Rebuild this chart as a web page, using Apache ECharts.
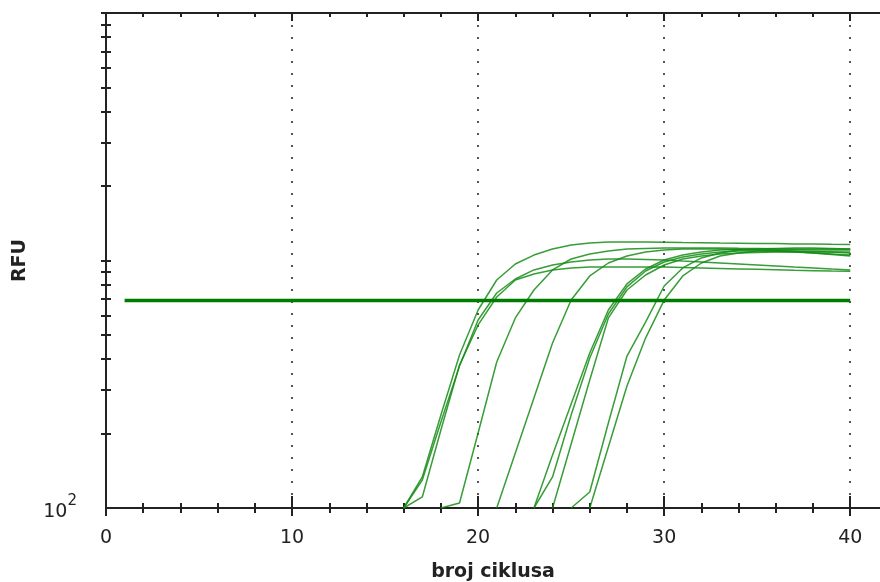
<!DOCTYPE html>
<html><head><meta charset="utf-8">
<script src="https://cdn.jsdelivr.net/npm/echarts@6/dist/echarts.min.js"></script>
<style>html,body{margin:0;padding:0;background:#fff}#c{width:880px;height:582px}</style>
</head><body><div id="c"></div>
<script>
// ---- data ----
const cycles = [1,2,3,4,5,6,7,8,9,10,11,12,13,14,15,16,17,18,19,20,21,22,23,24,25,26,27,28,29,30,31,32,33,34,35,36,37,38,39,40];
const xMajorTicks = [0,10,20,30,40];
const xMinorTicks = [0,2,4,6,8,10,12,14,16,18,20,22,24,26,28,30,32,34,36,38,40];
const yTickValues = [200,300,400,500,600,700,800,900,1000,2000,3000,4000,5000,6000,7000,8000,9000,10000];
const xTitle = 'broj ciklusa';
const yTitle = 'RFU';
const thresholdCycles = [1, 40];
const thresholdValue = 690;
const N = null;
const curveA1 = [N,N,N,N,N,N,N,N,N,N,N,N,N,N,N,100,133.5,237.6,415,631,834,968,1052,1113,1155,1177,1188,1188,1188,1185,1182,1180,1177,1175,1172,1170,1167,1165,1162,1160];
const curveA2 = [N,N,N,N,N,N,N,N,N,N,N,N,N,N,N,100,110.8,206.6,378,549,712,834,882,916,933,941,941,941,941,941,937,933,929,925,921,917,913,910,907,905];
const curveA3 = [N,N,N,N,N,N,N,N,N,N,N,N,N,N,N,100,129.8,222.6,374.8,574.9,739,842,916,959,986,1005,1014,1014,1010,1005,995,986,977,968,959,950,941,933,924,916];
const curveB  = [N,N,N,N,N,N,N,N,N,N,N,N,N,N,N,N,N,100,104.8,201,389,586,760,916,1014,1062,1092,1113,1118,1123,1123,1123,1123,1120,1118,1115,1113,1113,1113,1113];
const curveC  = [N,N,N,N,N,N,N,N,N,N,N,N,N,N,N,N,N,N,N,N,100,166.8,278.3,464,692,866,977,1043,1082,1102,1113,1113,1113,1108,1102,1097,1092,1087,1082,1072];
const curveD1 = [N,N,N,N,N,N,N,N,N,N,N,N,N,N,N,N,N,N,N,N,N,N,100,163.8,263,423,631,804,924,1005,1052,1082,1102,1108,1108,1108,1105,1102,1102,1102];
const curveD2 = [N,N,N,N,N,N,N,N,N,N,N,N,N,N,N,N,N,N,N,N,N,N,100,133.5,237.6,404,608,782,907,986,1033,1062,1082,1092,1092,1087,1082,1072,1062,1052];
const curveD3 = [N,N,N,N,N,N,N,N,N,N,N,N,N,N,N,N,N,N,N,N,N,N,N,100,181.4,329,586,760,874,959,1014,1043,1062,1072,1077,1082,1082,1082,1082,1082];
const curveE1 = [N,N,N,N,N,N,N,N,N,N,N,N,N,N,N,N,N,N,N,N,N,N,N,N,100,116,220.5,411,564,789,933,1024,1072,1102,1113,1118,1123,1123,1118,1113];
const curveE2 = [N,N,N,N,N,N,N,N,N,N,N,N,N,N,N,N,N,N,N,N,N,N,N,N,N,100,176.4,311,486,692,866,977,1043,1072,1092,1097,1087,1072,1058,1043];
const curves = [curveA1,curveA2,curveA3,curveB,curveC,curveD1,curveD2,curveD3,curveE1,curveE2];

// ---- chart ----
const FONT = 'DejaVu Sans';
const INK = '#222';
const chart = echarts.init(document.getElementById('c'), null, {renderer:'canvas'});

function helperX(pos, ticks, len, inside, line) {
  return {type:'value', min:0, max:41.6, position:pos, show:true,
    axisLine:{show:!!line, onZero:false, lineStyle:{color:INK, width:2}},
    axisTick:{show:true, customValues:ticks, length:len, inside:inside, lineStyle:{color:INK, width:2}},
    axisLabel:{show:false}, splitLine:{show:false}};
}
const yLog = yTickValues.map(v => Math.log10(v));
function helperY(inside, withLabel) {
  return {type:'value', min:2, max:4, position:'left', show:true,
    axisLine:{show:false},
    axisTick:{show:true, customValues:yLog, length:5, inside:inside, lineStyle:{color:INK, width:2}},
    axisLabel: withLabel ? {show:true, customValues:[2], margin:29,
      formatter: () => '{b|10}{s|2}',
      rich:{b:{fontFamily:FONT, fontSize:19, color:INK, verticalAlign:'bottom', lineHeight:28},
            s:{fontFamily:FONT, fontSize:15, color:INK, verticalAlign:'top', lineHeight:28}}} : {show:false},
    splitLine:{show:false}};
}

const series = curves.map(arr => ({
  type:'line', xAxisIndex:0, yAxisIndex:0, symbol:'none', clip:true, silent:true,
  lineStyle:{color:'rgba(20,140,20,0.85)', width:1.5},
  data: cycles.map((c,i) => [c, arr[i]]).filter(p => p[1] !== null)
}));
series.push({type:'line', xAxisIndex:0, yAxisIndex:0, symbol:'none', silent:true, z:3,
  lineStyle:{color:'#007d00', width:3.5},
  data: thresholdCycles.map(c => [c, thresholdValue])});

chart.setOption({
  animation:false,
  backgroundColor:'#fff',
  grid:{left:106, right:0, top:13, bottom:74, containLabel:false, outerBoundsMode:'none'},
  xAxis:[
    {type:'value', min:0, max:41.6, position:'bottom',
      axisLine:{show:true, onZero:false, lineStyle:{color:INK, width:2}},
      axisTick:{show:true, customValues:xMajorTicks, length:8, inside:false, lineStyle:{color:INK, width:2}},
      axisLabel:{show:true, customValues:xMajorTicks, margin:21, fontFamily:FONT, fontSize:19, color:INK},
      splitLine:{show:true, lineStyle:{type:[2,10], color:'#555', width:2}},
      name:xTitle, nameLocation:'middle', nameGap:55,
      nameTextStyle:{fontFamily:FONT, fontSize:19, fontWeight:'bold', color:INK}},
    helperX('bottom', xMajorTicks, 12, true, false),
    helperX('bottom', xMinorTicks, 5, false, false),
    helperX('bottom', xMinorTicks, 5, true, false),
    helperX('top', xMinorTicks, 4, true, true),
    helperX('top', xMajorTicks, 8, true, false)
  ],
  yAxis:[
    {type:'log', logBase:10, min:100, max:10000, position:'left',
      axisLine:{show:true, lineStyle:{color:INK, width:2}},
      axisTick:{show:false}, axisLabel:{show:false}, splitLine:{show:false}, minorTick:{show:false},
      name:yTitle, nameLocation:'middle', nameGap:76,
      nameTextStyle:{fontFamily:FONT, fontSize:19, fontWeight:'bold', color:INK}},
    helperY(false, true),
    helperY(true, false)
  ],
  series: series
});
</script></body></html>
